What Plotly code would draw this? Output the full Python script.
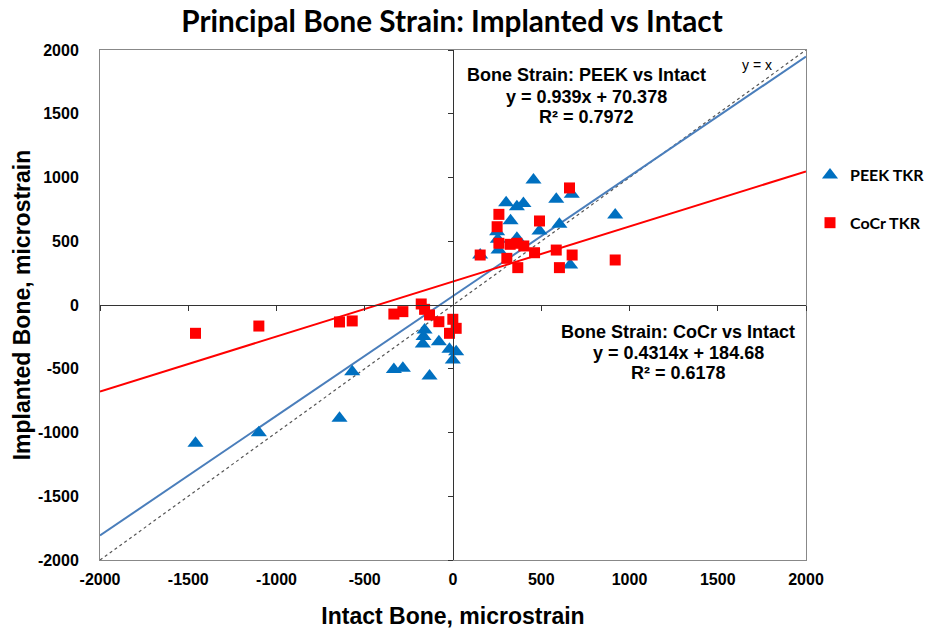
import plotly.graph_objects as go

# ---- data ----
peek_x = [456, 301, 362, 399, 585, 673, 326, 250, 254, 362, 490, 603, 919, 154, 258, 664,
          -1459, -1100, -643, -571, -335, -284, -133, -161, -167, -171, -80, -20, 18, -1]
peek_y = [980, 802, 771, 797, 829, 868, 661, 575, 515, 523, 580, 633, 706, 392, 431, 314,
          -1085, -1001, -889, -523, -505, -497, -557, -196, -248, -306, -288, -348, -366, -431]
cocr_x = [660, 260, 250, 490, 260, 324, 362, 401, 462, 585, 675, 154, 305, 367, 603, 919,
          -1459, -1100, -643, -571, -335, -284, -180, -161, -133, -80, -1, 18, -20]
cocr_y = [918, 711, 614, 659, 484, 476, 484, 463, 410, 431, 392, 392, 366, 293, 293, 353,
          -222, -165, -133, -125, -71, -52, 8, -34, -78, -131, -112, -183, -222]

peek_fit = (0.939, 70.378)
cocr_fit = (0.4314, 184.68)
line_x = [-2000, 2000]
tick_vals = [-2000, -1500, -1000, -500, 0, 500, 1000, 1500, 2000]
tick_text = ["-2000", "-1500", "-1000", "-500", "0", "500", "1000", "1500", "2000"]

peek_lines = ["Bone Strain: PEEK vs Intact", "y = 0.939x + 70.378", "R² = 0.7972"]
cocr_lines = ["Bone Strain: CoCr vs Intact", "y = 0.4314x + 184.68", "R² = 0.6178"]

LBL = "Lato"
ARIAL = "Liberation Sans"
W, H = 935, 629
PL, PR, PT, PB = 100, 806, 50, 560   # plot area in pixels

fig = go.Figure()

fig.add_trace(go.Scatter(x=line_x, y=line_x, mode="lines",
                         line=dict(color="#555555", width=1.2, dash="dot"),
                         showlegend=False, hoverinfo="skip"))
fig.add_trace(go.Scatter(x=line_x, y=[peek_fit[0] * v + peek_fit[1] for v in line_x],
                         mode="lines", line=dict(color="#4A7EBB", width=2),
                         showlegend=False, hoverinfo="skip"))
fig.add_trace(go.Scatter(x=line_x, y=[cocr_fit[0] * v + cocr_fit[1] for v in line_x],
                         mode="lines", line=dict(color="#FF0000", width=2),
                         showlegend=False, hoverinfo="skip"))

fig.add_trace(go.Scatter(x=peek_x, y=peek_y, mode="markers", name="PEEK TKR",
                         legendgroup="a",
                         marker=dict(symbol="triangle-up", size=14, color="#0070C0")))
fig.add_trace(go.Scatter(x=cocr_x, y=cocr_y, mode="markers", name="CoCr TKR",
                         legendgroup="b",
                         marker=dict(symbol="square", size=11, color="#FF0000")))

# dummy trace for the inner (zero-crossing) axes
fig.add_trace(go.Scatter(x=[None], y=[None], xaxis="x2", yaxis="y2",
                         showlegend=False, hoverinfo="skip"))

tickfont = dict(family=ARIAL, size=16, color="black", weight="bold")
fig.update_layout(
    width=W, height=H,
    margin=dict(l=PL, r=W - PR, t=PT, b=H - PB, autoexpand=False),
    paper_bgcolor="white", plot_bgcolor="white",
    title=dict(text="<b>Principal Bone Strain: Implanted vs Intact</b>",
               font=dict(family=LBL, size=29.7, color="black"),
               x=452 / W, xanchor="center", y=1 - 22 / H, yanchor="middle"),
    xaxis=dict(range=[-2000, 2000], tickvals=tick_vals, ticktext=tick_text,
               showgrid=False, zeroline=False, automargin=False,
               showline=True, linecolor="#888888", linewidth=1, mirror=True,
               ticks="", tickfont=tickfont, ticklabelstandoff=5,
               title=dict(text="<b>Intact Bone, microstrain</b>",
                          font=dict(family=ARIAL, size=23, color="black"), standoff=20)),
    yaxis=dict(range=[-2000, 2000], tickvals=tick_vals, ticktext=tick_text,
               showgrid=False, zeroline=False, automargin=False,
               showline=True, linecolor="#888888", linewidth=1, mirror=True,
               ticks="", tickfont=tickfont, ticklabelstandoff=17,
               title=dict(text="<b>Implanted Bone, microstrain</b>",
                          font=dict(family=ARIAL, size=23, color="black"), standoff=0)),
    xaxis2=dict(range=[-2000, 2000], tickvals=tick_vals, overlaying="x", anchor="free",
                position=0.5, showticklabels=False, showgrid=False, zeroline=False,
                showline=True, linecolor="#333333", linewidth=1,
                ticks="outside", ticklen=5, tickcolor="#333333"),
    yaxis2=dict(range=[-2000, 2000], tickvals=tick_vals, overlaying="y", anchor="free",
                position=0.5, side="left", showticklabels=False, showgrid=False,
                zeroline=False, showline=True, linecolor="#333333", linewidth=1,
                ticks="outside", ticklen=5, tickcolor="#333333"),
    legend=dict(x=(810 - PL) / (PR - PL), y=(PB - 158) / (PB - PT),
                xanchor="left", yanchor="top",
                font=dict(family=LBL, size=16, color="black", weight="bold"),
                tracegroupgap=24, itemsizing="trace", bgcolor="rgba(0,0,0,0)"),
    showlegend=True,
)

ann_font = dict(family=ARIAL, size=18, color="black", weight="bold")
for lines, cx, ys in [(peek_lines, 586, [75, 97, 117]), (cocr_lines, 678, [332, 353, 373])]:
    for txt, py in zip(lines, ys):
        fig.add_annotation(text=txt, xref="paper", yref="paper",
                           x=(cx - PL) / (PR - PL), y=(PB - py) / (PB - PT),
                           xanchor="center", yanchor="middle", showarrow=False,
                           font=ann_font)
fig.add_annotation(text="y = x", xref="paper", yref="paper",
                   x=(757 - PL) / (PR - PL), y=(PB - 65) / (PB - PT), xanchor="center",
                   yanchor="middle", showarrow=False,
                   font=dict(family=ARIAL, size=14, color="black"))

fig.write_html("out.html", config={"displayModeBar": False},
               post_script="document.body.style.margin='0';")
